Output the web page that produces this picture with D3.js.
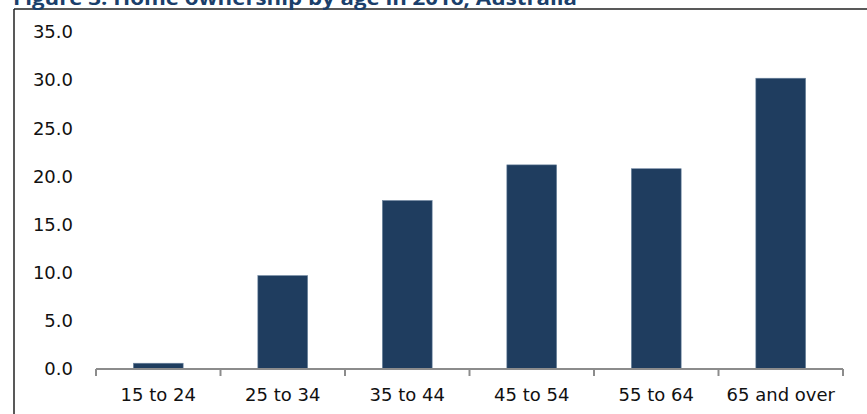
<!DOCTYPE html>
<html>
<head>
<meta charset="utf-8">
<script src="https://cdn.jsdelivr.net/npm/d3@7"></script>
<style>
  body { margin: 0; background: #fff; }
  svg { display: block; }
</style>
</head>
<body>
<svg id="chart" width="867" height="414"></svg>
<script>
// chart data
const title = "Figure 3: Home ownership by age in 2016, Australia";
const ageGroups = ["15 to 24", "25 to 34", "35 to 44", "45 to 54", "55 to 64", "65 and over"];
const ownership = [0.6, 9.7, 17.5, 21.2, 20.8, 30.2];
const yTicks = [0, 5, 10, 15, 20, 25, 30, 35];

const barColour = "#1F3D5F";
const axisColour = "#8C8C8C";

let svg = d3.select("#chart");

// plot area
const plotLeft = 96, plotRight = 843, plotTop = 32, plotBottom = 369;

let x = d3.scaleBand()
    .domain(ageGroups)
    .range([plotLeft, plotRight])
    .padding(0);

let y = d3.scaleLinear()
    .domain([0, 35])
    .range([plotBottom, plotTop]);

// outer frame of the figure (only top and left edges are in view)
svg.append("line")
    .attr("x1", 14).attr("x2", 867)
    .attr("y1", 9).attr("y2", 9)
    .attr("stroke", "#222").attr("stroke-width", 1.5);
svg.append("line")
    .attr("x1", 14).attr("x2", 14)
    .attr("y1", 9).attr("y2", 414)
    .attr("stroke", "#222").attr("stroke-width", 1.5);

// title, cut off by the top of the picture as in the reference
let t = svg.append("text")
    .attr("x", 13)
    .attr("y", 5)
    .attr("font-family", "'Open Sans', 'Noto Sans', sans-serif")
    .attr("font-weight", "bold")
    .attr("font-size", 19)
    .attr("fill", "#1B3F6B")
    .text(title);
// stretch the title to the width it takes in the reference
t.attr("textLength", 564).attr("lengthAdjust", "spacingAndGlyphs");

// y axis labels, no line
let yAxis = svg.append("g")
    .attr("transform", "translate(" + plotLeft + ",0)")
    .call(d3.axisLeft(y)
        .tickValues(yTicks)
        .tickFormat(d3.format(".1f"))
        .tickSize(0)
        .tickPadding(23));
yAxis.select(".domain").remove();
yAxis.selectAll("text")
    .attr("font-family", "'DejaVu Sans', sans-serif")
    .attr("font-size", 18)
    .attr("fill", "#111");

// bars, 40% of the band, centred
const barWidth = x.bandwidth() * 0.4;
svg.selectAll(".bar")
    .data(ageGroups)
    .enter().append("rect")
    .attr("class", "bar")
    .attr("x", function (d) {
        return x(d) + (x.bandwidth() - barWidth) / 2;
    })
    .attr("width", barWidth)
    .attr("y", function (d, i) {
        return y(ownership[i]);
    })
    .attr("height", function (d, i) {
        return y(0) - y(ownership[i]);
    })
    .attr("fill", barColour)
    .attr("stroke", "#6E86A0")
    .attr("stroke-width", 0.6);

// x axis: labels centred in bands
let xAxis = svg.append("g")
    .attr("transform", "translate(0," + plotBottom + ")")
    .call(d3.axisBottom(x).tickSize(0).tickPadding(19));
xAxis.select(".domain").remove();
xAxis.selectAll("text")
    .attr("font-family", "'DejaVu Sans', sans-serif")
    .attr("font-size", 18)
    .attr("fill", "#111");

// axis line and tick marks on the band edges
svg.append("line")
    .attr("x1", plotLeft).attr("x2", plotRight)
    .attr("y1", y(0)).attr("y2", y(0))
    .attr("stroke", axisColour).attr("stroke-width", 2);

let edges = ageGroups.map(function (d) { return x(d); }).concat([plotRight]);
svg.selectAll(".edge")
    .data(edges)
    .enter().append("line")
    .attr("class", "edge")
    .attr("x1", function (d) { return d; })
    .attr("x2", function (d) { return d; })
    .attr("y1", y(0))
    .attr("y2", y(0) + 7)
    .attr("stroke", axisColour)
    .attr("stroke-width", 2);
</script>
</body>
</html>
